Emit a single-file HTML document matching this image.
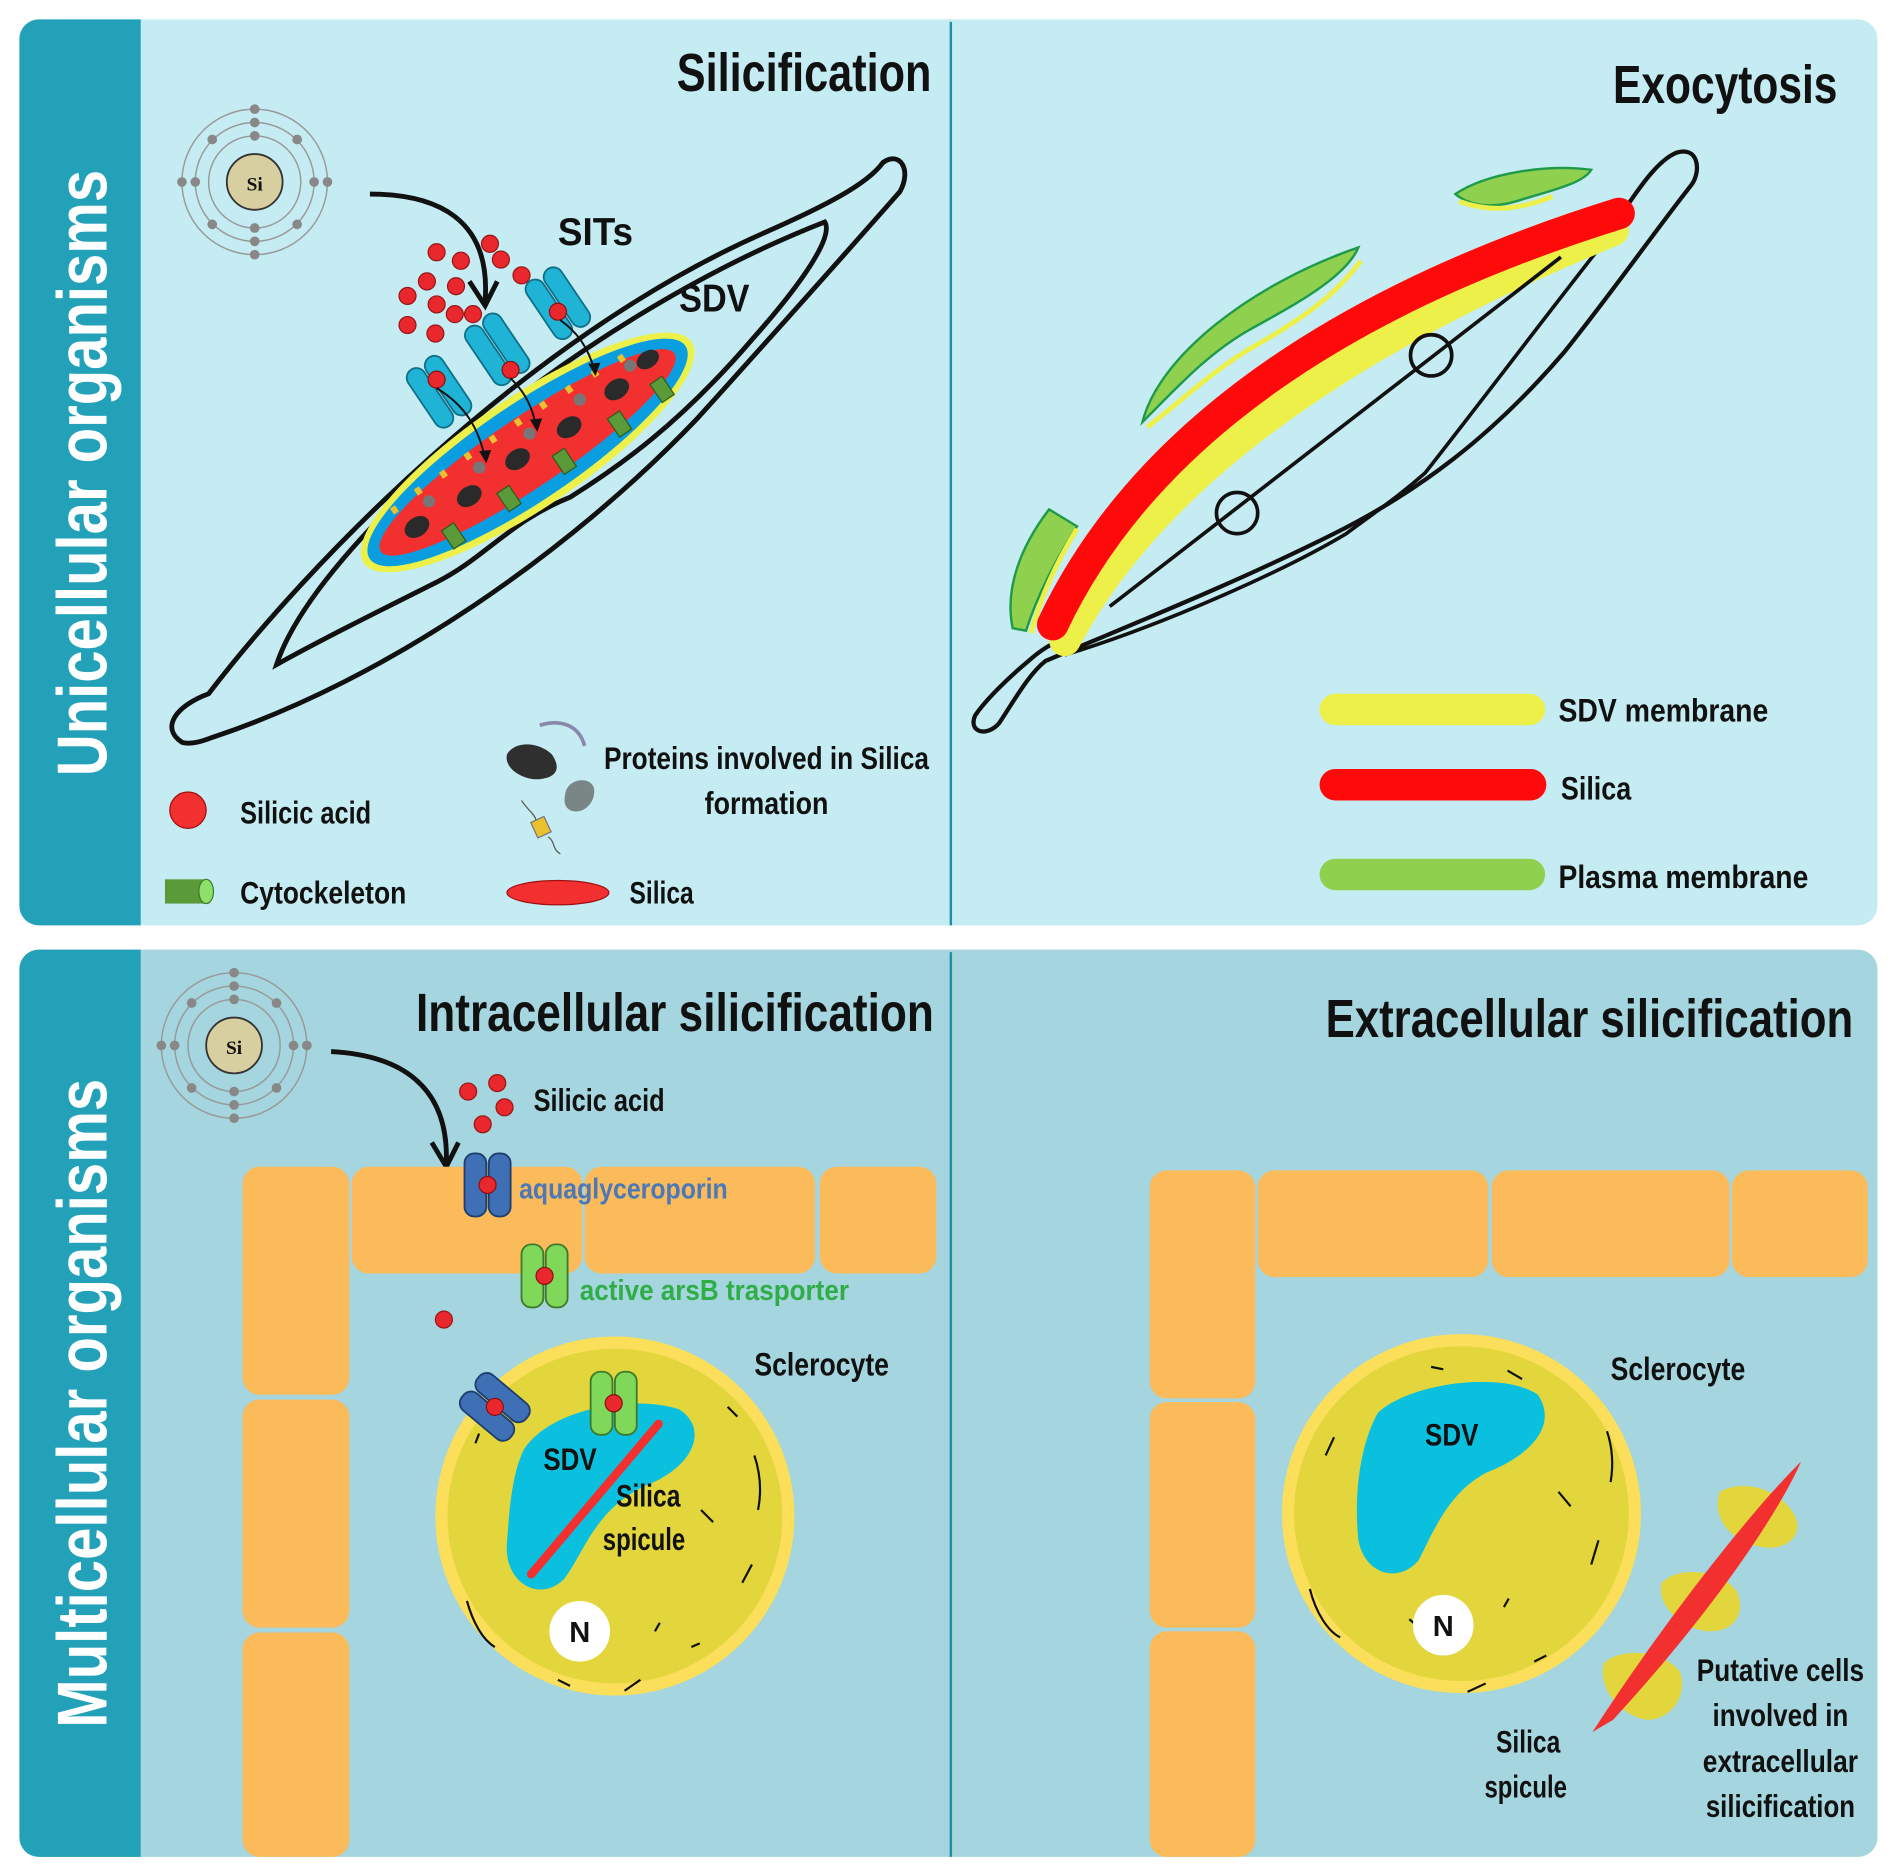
<!DOCTYPE html>
<html><head><meta charset="utf-8"><style>
html,body{margin:0;padding:0;background:#fff;}
svg{display:block;}
text{font-family:"Liberation Sans Narrow","Liberation Sans",sans-serif;font-weight:bold;fill:#111;}
</style></head><body>
<svg width="1892" height="1869" viewBox="0 0 1560 1541" preserveAspectRatio="none" xmlns="http://www.w3.org/2000/svg">
<defs>
<g id="sit">
  <rect x="-17" y="-28" width="16" height="56" rx="8" fill="#1fb4d6" stroke="#10708a" stroke-width="1.5"/>
  <rect x="1" y="-28" width="16" height="56" rx="8" fill="#1fb4d6" stroke="#10708a" stroke-width="1.5"/>
</g>
<g id="aqua">
  <rect x="-19" y="-26" width="18" height="52" rx="8" fill="#3f6fb5" stroke="#1d3e6e" stroke-width="1.5"/>
  <rect x="1" y="-26" width="18" height="52" rx="8" fill="#3f6fb5" stroke="#1d3e6e" stroke-width="1.5"/>
  <circle r="7" fill="#e8282c" stroke="#8a1010" stroke-width="1"/>
</g>
<g id="ars">
  <rect x="-19" y="-26" width="18" height="52" rx="8" fill="#7fd85a" stroke="#3e7a2a" stroke-width="1.5"/>
  <rect x="1" y="-26" width="18" height="52" rx="8" fill="#7fd85a" stroke="#3e7a2a" stroke-width="1.5"/>
  <circle r="7" fill="#e8282c" stroke="#8a1010" stroke-width="1"/>
</g>
<g id="atom">
  <circle r="60" fill="none" stroke="#999" stroke-width="1.2"/>
  <circle r="49" fill="none" stroke="#999" stroke-width="1.2"/>
  <circle r="38" fill="none" stroke="#999" stroke-width="1.2"/>
  <circle r="23" fill="#d7cf9f" stroke="#333" stroke-width="1.5"/>
  <g fill="#888">
    <circle cx="0" cy="-60" r="4"/><circle cx="0" cy="-49" r="4"/><circle cx="0" cy="-38" r="4"/>
    <circle cx="0" cy="60" r="4"/><circle cx="0" cy="49" r="4"/><circle cx="0" cy="38" r="4"/>
    <circle cx="-60" cy="0" r="4"/><circle cx="-49" cy="0" r="4"/><circle cx="60" cy="0" r="4"/><circle cx="49" cy="0" r="4"/>
    <circle cx="-35" cy="-35" r="4"/><circle cx="35" cy="-35" r="4"/><circle cx="-35" cy="35" r="4"/><circle cx="35" cy="35" r="4"/>
  </g>
</g>
</defs>

<!-- Top panel -->
<rect x="16" y="16" width="1532" height="747" rx="16" fill="#c5ecf2"/>
<path d="M32,16 H116 V763 H32 A16,16 0 0 1 16,747 V32 A16,16 0 0 1 32,16Z" fill="#22a1b9"/>
<line x1="784" y1="18" x2="784" y2="763" stroke="#1f8fa8" stroke-width="2"/>
<text transform="translate(88,390) rotate(-90)" text-anchor="middle" font-size="58" style="fill:#fff" textLength="500" lengthAdjust="spacingAndGlyphs">Unicellular organisms</text>

<!-- Bottom panel -->
<rect x="16" y="783" width="1532" height="748" rx="16" fill="#a5d5de"/>
<path d="M32,783 H116 V1531 H32 A16,16 0 0 1 16,1515 V799 A16,16 0 0 1 32,783Z" fill="#22a1b9"/>
<line x1="784" y1="785" x2="784" y2="1531" stroke="#1f8fa8" stroke-width="2"/>
<text transform="translate(88,1157) rotate(-90)" text-anchor="middle" font-size="58" style="fill:#fff" textLength="535" lengthAdjust="spacingAndGlyphs">Multicellular organisms</text>

<!-- ===== Silicification ===== -->
<text x="558" y="75" font-size="44" textLength="210" lengthAdjust="spacingAndGlyphs">Silicification</text>
<use href="#atom" x="210" y="150"/>
<text x="210" y="157" font-size="16" text-anchor="middle" style="font-family:'Liberation Serif',serif">Si</text>

<path d="M150,612 C132,600 145,582 172,572 C250,470 430,280 630,192 C680,170 715,152 728,134 C742,124 752,140 742,158 C705,200 650,262 575,345 C470,455 320,560 175,608 C165,612 156,614 150,612Z" fill="none" stroke="#111" stroke-width="4"/>
<path d="M228,548 C260,450 470,265 680,183 C688,195 660,235 620,280 C560,350 510,385 470,410 C420,430 400,460 360,480 C310,505 260,530 228,548Z" fill="none" stroke="#111" stroke-width="4"/>

<g transform="translate(435,373) rotate(-34)">
  <ellipse rx="163" ry="46" fill="#eef04a"/>
  <ellipse rx="157" ry="40" fill="#0a9ee0"/>
  <ellipse rx="146" ry="29" fill="#f23030"/>
  <g fill="#2a2a2a">
    <ellipse cx="-110" cy="0" rx="11" ry="8"/><ellipse cx="-60" cy="3" rx="11" ry="8"/><ellipse cx="-10" cy="0" rx="11" ry="8"/><ellipse cx="40" cy="2" rx="11" ry="8"/><ellipse cx="90" cy="-2" rx="11" ry="8"/><ellipse cx="125" cy="-8" rx="10" ry="7"/>
  </g>
  <g fill="#777">
    <circle cx="-90" cy="-12" r="5"/><circle cx="-40" cy="-12" r="5"/><circle cx="10" cy="-12" r="5"/><circle cx="60" cy="-12" r="5"/><circle cx="110" cy="-12" r="5"/>
  </g>
  <g fill="#5a9a38" stroke="#2f5a1e" stroke-width="1">
    <rect x="-95" y="14" width="12" height="18"/><rect x="-40" y="14" width="12" height="18"/><rect x="15" y="14" width="12" height="18"/><rect x="70" y="14" width="12" height="18"/><rect x="115" y="10" width="12" height="18"/>
  </g>
  <g fill="#e8c030">
    <rect x="-120" y="-25" width="5" height="6"/><rect x="-95" y="-27" width="5" height="6"/><rect x="-70" y="-27" width="5" height="6"/><rect x="-45" y="-28" width="5" height="6"/><rect x="-20" y="-28" width="5" height="6"/><rect x="5" y="-28" width="5" height="6"/><rect x="30" y="-28" width="5" height="6"/><rect x="55" y="-27" width="5" height="6"/><rect x="80" y="-26" width="5" height="6"/><rect x="105" y="-24" width="5" height="6"/>
  </g>
</g>

<use href="#sit" transform="translate(362,323) rotate(-34)"/>
<use href="#sit" transform="translate(410,288) rotate(-34)"/>
<use href="#sit" transform="translate(460,250) rotate(-34)"/>
<g fill="#e8282c" stroke="#8a1010" stroke-width="1">
  <circle cx="360" cy="313" r="7"/><circle cx="421" cy="305" r="7"/><circle cx="460" cy="257" r="7"/>
</g>
<g fill="none" stroke="#111" stroke-width="1.6">
  <path d="M360,320 C385,335 395,355 400,378"/><path d="M421,312 C435,325 440,340 442,352"/><path d="M462,264 C478,275 486,290 490,305"/>
</g>
<g fill="#111">
  <path d="M395,372 L401,382 L405,371Z"/><path d="M437,346 L443,356 L447,345Z"/><path d="M485,300 L491,310 L495,299Z"/>
</g>

<g fill="#e8282c" stroke="#9a1515" stroke-width="1">
  <circle cx="360" cy="208" r="7"/><circle cx="380" cy="215" r="7"/><circle cx="404" cy="201" r="7"/><circle cx="413" cy="214" r="7"/><circle cx="430" cy="227" r="7"/>
  <circle cx="352" cy="232" r="7"/><circle cx="376" cy="236" r="7"/><circle cx="336" cy="244" r="7"/><circle cx="360" cy="251" r="7"/><circle cx="375" cy="259" r="7"/><circle cx="390" cy="259" r="7"/>
  <circle cx="336" cy="268" r="7"/><circle cx="359" cy="275" r="7"/>
</g>
<path d="M305,160 C360,160 405,180 400,248" fill="none" stroke="#111" stroke-width="4"/>
<path d="M387,232 L400,252 L410,232" fill="none" stroke="#111" stroke-width="4"/>
<text x="460" y="202" font-size="32" textLength="62" lengthAdjust="spacingAndGlyphs">SITs</text>
<text x="560" y="257" font-size="32" textLength="58" lengthAdjust="spacingAndGlyphs">SDV</text>

<circle cx="155" cy="668" r="15" fill="#f23030" stroke="#a01010" stroke-width="1"/>
<text x="198" y="679" font-size="26" textLength="108" lengthAdjust="spacingAndGlyphs">Silicic acid</text>
<rect x="136" y="725" width="34" height="20" fill="#5a9a38"/>
<ellipse cx="170" cy="735" rx="6" ry="10" fill="#8fe06a" stroke="#3e7a2a" stroke-width="1"/>
<text x="198" y="745" font-size="26" textLength="137" lengthAdjust="spacingAndGlyphs">Cytockeleton</text>
<ellipse cx="460" cy="736" rx="42" ry="10" fill="#f23030" stroke="#a01010" stroke-width="1"/>
<text x="519" y="745" font-size="26" textLength="53" lengthAdjust="spacingAndGlyphs">Silica</text>
<path d="M418,622 C425,610 445,612 455,622 C462,632 460,640 448,642 C435,645 415,635 418,622Z" fill="#2f2f2f"/>
<path d="M466,655 C468,640 490,640 490,652 C490,665 478,672 470,668 C465,665 465,660 466,655Z" fill="#7a8585"/>
<path d="M445,598 C465,592 478,600 482,615" fill="none" stroke="#8888aa" stroke-width="3"/>
<rect x="440" y="675" width="12" height="14" fill="#e8c030" stroke="#777" stroke-width="1" transform="rotate(-25 446 682)"/>
<path d="M430,660 C435,668 440,670 442,676 M452,690 C458,694 455,700 462,704" fill="none" stroke="#555" stroke-width="1"/>
<text x="498" y="634" font-size="26" textLength="268" lengthAdjust="spacingAndGlyphs">Proteins involved in Silica</text>
<text x="632" y="671" font-size="26" text-anchor="middle" textLength="102" lengthAdjust="spacingAndGlyphs">formation</text>

<!-- ===== Exocytosis ===== -->
<text x="1330" y="85" font-size="44" textLength="185" lengthAdjust="spacingAndGlyphs">Exocytosis</text>
<!-- outer outline -->
<path d="M1340,172 C1355,150 1368,132 1382,126 C1400,120 1403,140 1395,152 C1365,190 1330,240 1290,290 C1230,360 1170,405 1100,440 C1020,480 940,512 862,545 C848,556 836,578 824,596 C814,608 798,604 804,590 C812,578 830,560 848,545 C858,536 868,530 878,526" fill="none" stroke="#111" stroke-width="3.5"/>
<!-- inner line -->
<path d="M878,540 C960,515 1060,470 1110,440 C1130,425 1150,412 1175,390 C1230,320 1290,240 1338,180" fill="none" stroke="#111" stroke-width="3"/>
<!-- green plasma membranes -->
<path d="M942,348 C955,295 1030,235 1120,204 C1110,228 1070,250 1030,272 C995,292 970,320 942,348Z" fill="#8fd14f" stroke="#1f9a4a" stroke-width="2"/>
<path d="M946,352 C975,330 1000,305 1035,285 C1070,265 1100,245 1122,215" fill="none" stroke="#eef04a" stroke-width="4"/>
<path d="M1200,160 C1225,143 1275,135 1312,140 C1305,152 1275,158 1250,166 C1230,172 1212,170 1200,160Z" fill="#8fd14f" stroke="#1f9a4a" stroke-width="2"/>
<path d="M1203,166 C1230,176 1255,172 1280,162" fill="none" stroke="#eef04a" stroke-width="4"/>
<path d="M835,518 C828,485 842,450 865,420 L888,434 C870,462 855,492 846,520Z" fill="#8fd14f" stroke="#1f9a4a" stroke-width="2"/>
<path d="M888,436 C872,462 858,492 850,522" fill="none" stroke="#eef04a" stroke-width="4"/>
<!-- yellow + red silica -->
<path d="M878,528 C935,420 1060,300 1330,190" fill="none" stroke="#eef04a" stroke-width="26" stroke-linecap="round"/>
<path d="M868,515 C920,405 1040,268 1335,176" fill="none" stroke="#ff0a0a" stroke-width="26" stroke-linecap="round"/>
<line x1="915" y1="500" x2="1287" y2="212" stroke="#111" stroke-width="3"/>
<circle cx="1020" cy="423" r="17" fill="none" stroke="#111" stroke-width="3"/>
<circle cx="1180" cy="293" r="17" fill="none" stroke="#111" stroke-width="3"/>
<rect x="1088" y="572" width="186" height="26" rx="13" fill="#eef04a"/>
<text x="1285" y="595" font-size="27" textLength="173" lengthAdjust="spacingAndGlyphs">SDV membrane</text>
<rect x="1088" y="634" width="187" height="26" rx="13" fill="#ff0a0a"/>
<text x="1287" y="659" font-size="27" textLength="58" lengthAdjust="spacingAndGlyphs">Silica</text>
<rect x="1088" y="708" width="186" height="26" rx="13" fill="#8fd14f"/>
<text x="1285" y="732" font-size="27" textLength="206" lengthAdjust="spacingAndGlyphs">Plasma membrane</text>

<!-- ===== Intracellular ===== -->
<text x="343" y="850" font-size="44" textLength="427" lengthAdjust="spacingAndGlyphs">Intracellular silicification</text>
<use href="#atom" x="193" y="862"/>
<text x="193" y="869" font-size="16" text-anchor="middle" style="font-family:'Liberation Serif',serif">Si</text>
<path d="M273,867 C330,870 370,895 368,958" fill="none" stroke="#111" stroke-width="4"/>
<path d="M356,942 L368,962 L378,942" fill="none" stroke="#111" stroke-width="4"/>
<g fill="#e8282c" stroke="#9a1515" stroke-width="1">
  <circle cx="386" cy="900" r="7"/><circle cx="410" cy="893" r="7"/><circle cx="416" cy="913" r="7"/><circle cx="398" cy="927" r="7"/>
  <circle cx="427" cy="1012" r="7"/><circle cx="366" cy="1088" r="7"/><circle cx="462" cy="1138" r="7"/>
</g>
<text x="440" y="916" font-size="26" textLength="108" lengthAdjust="spacingAndGlyphs">Silicic acid</text>
<g fill="#fbbb5b">
  <rect x="200" y="962" width="88" height="188" rx="14"/><rect x="200" y="1154" width="88" height="188" rx="14"/><rect x="200" y="1346" width="88" height="185" rx="14"/>
  <rect x="290" y="962" width="190" height="88" rx="14"/><rect x="482" y="962" width="190" height="88" rx="14"/><rect x="676" y="962" width="96" height="88" rx="14"/>
</g>
<use href="#aqua" x="402" y="977"/>
<text x="428" y="988" font-size="24" style="fill:#4a78b8" textLength="172" lengthAdjust="spacingAndGlyphs">aquaglyceroporin</text>
<use href="#ars" x="449" y="1052"/>
<text x="478" y="1072" font-size="24" style="fill:#2fae48" textLength="222" lengthAdjust="spacingAndGlyphs">active arsB trasporter</text>

<circle cx="507" cy="1250" r="143" fill="#e2d63c" stroke="#fbde5a" stroke-width="10"/>
<path d="M432,1195 C455,1160 525,1150 560,1162 C585,1178 572,1210 532,1225 C490,1245 482,1280 465,1302 C445,1322 415,1305 418,1272 C420,1245 422,1215 432,1195Z" fill="#0bc0de"/>
<line x1="438" y1="1298" x2="543" y2="1174" stroke="#f23030" stroke-width="7" stroke-linecap="round"/>
<g fill="none" stroke="#111" stroke-width="1.8">
  <path d="M395,1182 L392,1190"/><path d="M600,1160 L608,1168"/><path d="M622,1200 C627,1215 628,1230 625,1245"/><path d="M578,1245 L588,1255"/><path d="M620,1290 L612,1305"/><path d="M385,1320 C390,1338 398,1352 408,1358"/><path d="M540,1345 L544,1338"/><path d="M515,1394 L528,1385"/><path d="M460,1385 L470,1390"/><path d="M570,1358 L577,1355"/>
</g>
<use href="#aqua" transform="translate(408,1160) rotate(-50)"/>
<use href="#ars" x="506" y="1157"/>
<circle cx="478" cy="1345" r="25" fill="#fff"/>
<text x="478" y="1354" font-size="24" text-anchor="middle" style="font-family:'Liberation Sans',sans-serif">N</text>
<text x="448" y="1212" font-size="26" textLength="44" lengthAdjust="spacingAndGlyphs">SDV</text>
<text x="508" y="1242" font-size="26" textLength="53" lengthAdjust="spacingAndGlyphs">Silica</text>
<text x="497" y="1278" font-size="26" textLength="68" lengthAdjust="spacingAndGlyphs">spicule</text>
<text x="622" y="1134" font-size="27" textLength="111" lengthAdjust="spacingAndGlyphs">Sclerocyte</text>

<!-- ===== Extracellular ===== -->
<text x="1093" y="855" font-size="44" textLength="435" lengthAdjust="spacingAndGlyphs">Extracellular silicification</text>
<g fill="#fbbb5b">
  <rect x="948" y="965" width="87" height="188" rx="14"/><rect x="948" y="1156" width="87" height="186" rx="14"/><rect x="948" y="1345" width="87" height="186" rx="14"/>
  <rect x="1037" y="965" width="190" height="88" rx="14"/><rect x="1230" y="965" width="196" height="88" rx="14"/><rect x="1428" y="965" width="112" height="88" rx="14"/>
</g>
<circle cx="1205" cy="1248" r="143" fill="#e2d63c" stroke="#fbde5a" stroke-width="10"/>
<path d="M1136,1165 C1162,1140 1240,1130 1268,1150 C1285,1175 1262,1200 1226,1214 C1195,1230 1182,1262 1170,1286 C1155,1305 1126,1300 1120,1270 C1116,1230 1122,1190 1136,1165Z" fill="#0bc0de"/>
<g fill="none" stroke="#111" stroke-width="1.8">
  <path d="M1100,1185 L1093,1200"/><path d="M1180,1127 L1190,1129"/><path d="M1243,1130 L1255,1137"/><path d="M1325,1180 C1330,1195 1330,1210 1328,1222"/><path d="M1285,1230 L1295,1242"/><path d="M1318,1270 L1312,1290"/><path d="M1080,1310 C1085,1330 1095,1345 1105,1350"/><path d="M1240,1325 L1244,1318"/><path d="M1265,1370 L1275,1365"/><path d="M1162,1335 L1170,1342"/><path d="M1210,1395 L1225,1388"/>
</g>
<circle cx="1190" cy="1340" r="25" fill="#fff"/>
<text x="1190" y="1349" font-size="24" text-anchor="middle" style="font-family:'Liberation Sans',sans-serif">N</text>
<text x="1175" y="1192" font-size="26" textLength="44" lengthAdjust="spacingAndGlyphs">SDV</text>
<text x="1328" y="1138" font-size="27" textLength="111" lengthAdjust="spacingAndGlyphs">Sclerocyte</text>
<g fill="#e2d63c">
  <path d="M1418,1230 C1440,1218 1470,1230 1480,1250 C1488,1268 1470,1280 1450,1275 C1432,1272 1410,1255 1418,1230Z"/>
  <path d="M1370,1305 C1385,1290 1420,1295 1432,1312 C1440,1330 1430,1345 1410,1345 C1390,1345 1365,1325 1370,1305Z"/>
  <path d="M1322,1372 C1335,1358 1370,1360 1385,1378 C1392,1398 1378,1418 1358,1418 C1338,1415 1318,1395 1322,1372Z"/>
</g>
<path d="M1313,1428 C1370,1340 1440,1250 1485,1205 C1470,1240 1420,1320 1330,1418 Z" fill="#f23030"/>
<text x="1260" y="1445" font-size="26" text-anchor="middle" textLength="53" lengthAdjust="spacingAndGlyphs">Silica</text>
<text x="1258" y="1482" font-size="26" text-anchor="middle" textLength="68" lengthAdjust="spacingAndGlyphs">spicule</text>
<text x="1468" y="1386" font-size="26" text-anchor="middle" textLength="138" lengthAdjust="spacingAndGlyphs">Putative cells</text>
<text x="1468" y="1423" font-size="26" text-anchor="middle" textLength="112" lengthAdjust="spacingAndGlyphs">involved in</text>
<text x="1468" y="1461" font-size="26" text-anchor="middle" textLength="128" lengthAdjust="spacingAndGlyphs">extracellular</text>
<text x="1468" y="1498" font-size="26" text-anchor="middle" textLength="123" lengthAdjust="spacingAndGlyphs">silicification</text>
</svg>
</body></html>
